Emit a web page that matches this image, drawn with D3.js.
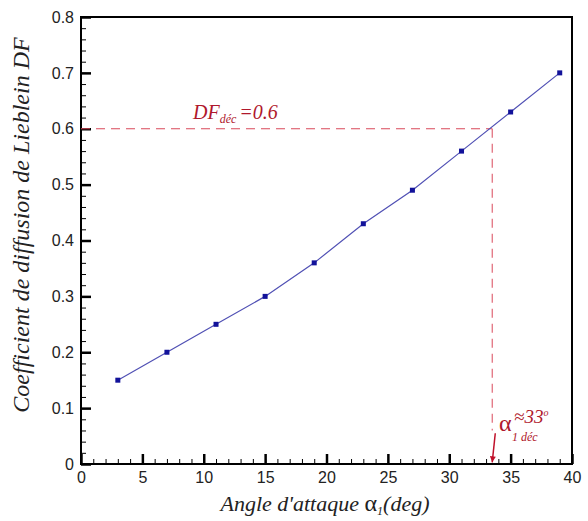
<!DOCTYPE html>
<html><head><meta charset="utf-8">
<script src="https://cdn.jsdelivr.net/npm/d3@7"></script>
<style>body{margin:0;background:#fff}svg{display:block}</style>
</head><body>
<svg id="c" width="588" height="521"></svg>
<script>
const alpha = [3, 7, 11, 15, 19, 23, 27, 31, 35, 39];
const dfValues = [0.15, 0.20, 0.25, 0.30, 0.36, 0.43, 0.49, 0.56, 0.63, 0.70];
const xTicks = [0, 5, 10, 15, 20, 25, 30, 35, 40];
const yTicks = [0, 0.1, 0.2, 0.3, 0.4, 0.5, 0.6, 0.7, 0.8];
const dfLimit = 0.6;
const alphaLimit = 33.5;

const SERIF = "Liberation Serif";
const SANS = "Liberation Sans";

const svg = d3.select("#c");
const L = 81, R = 572, T = 17, B = 464;
const x = d3.scaleLinear().domain([0, 40]).range([L, R]);
const y = d3.scaleLinear().domain([0, 0.8]).range([B, T]);

// frame
svg.append("rect").attr("x", L).attr("y", T).attr("width", R - L).attr("height", B - T)
  .attr("fill", "none").attr("stroke", "#000").attr("stroke-width", 2);

// x axis
const xAxis = svg.append("g").attr("transform", `translate(0,${B})`);
xAxis.call(d3.axisBottom(x).tickValues(d3.range(0, 41, 1)).tickSize(-5).tickFormat(""))
  .call(g => g.select(".domain").remove())
  .call(g => g.selectAll("line").attr("stroke", "#000").attr("stroke-width", 1));
xAxis.append("g").call(d3.axisBottom(x).tickValues(xTicks).tickSize(-10).tickPadding(8).tickFormat(d3.format("d")))
  .call(g => g.select(".domain").remove())
  .call(g => g.selectAll("line").attr("stroke", "#000").attr("stroke-width", 2.5))
  .call(g => g.selectAll("text").attr("font-family", SANS).attr("font-size", 16).attr("fill", "#222"));

// y axis
const yAxis = svg.append("g").attr("transform", `translate(${L},0)`);
yAxis.call(d3.axisLeft(y).tickValues(d3.range(0, 0.8001, 0.02)).tickSize(-5).tickFormat(""))
  .call(g => g.select(".domain").remove())
  .call(g => g.selectAll("line").attr("stroke", "#000").attr("stroke-width", 1));
yAxis.append("g").call(d3.axisLeft(y).tickValues(yTicks).tickSize(-10).tickPadding(7).tickFormat(d => d === 0 ? "0" : d3.format(".1f")(d)))
  .call(g => g.select(".domain").remove())
  .call(g => g.selectAll("line").attr("stroke", "#000").attr("stroke-width", 2.5))
  .call(g => g.selectAll("text").attr("font-family", SANS).attr("font-size", 16).attr("fill", "#222"));

// dashed guide lines
const red = "#d9485a";
svg.append("line").attr("x1", x(0)).attr("x2", x(alphaLimit)).attr("y1", y(dfLimit)).attr("y2", y(dfLimit))
  .attr("stroke", red).attr("stroke-width", 1).attr("stroke-dasharray", "9,6");
svg.append("line").attr("x1", x(alphaLimit)).attr("x2", x(alphaLimit)).attr("y1", y(dfLimit)).attr("y2", y(0.06))
  .attr("stroke", red).attr("stroke-width", 1).attr("stroke-dasharray", "9,6");

// arrow
const defs = svg.append("defs");
defs.append("marker").attr("id", "ah").attr("viewBox", "0 0 10 10").attr("refX", 10).attr("refY", 5)
  .attr("markerWidth", 5).attr("markerHeight", 4).attr("orient", "auto")
  .append("path").attr("d", "M0,0 L10,5 L0,10 z").attr("fill", "#c0102a");
svg.append("line").attr("x1", x(33.75)).attr("y1", y(0.055)).attr("x2", x(alphaLimit)).attr("y2", y(0.003))
  .attr("stroke", "#c0102a").attr("stroke-width", 1.5).attr("marker-end", "url(#ah)");

// data line
const line = d3.line().x((d, i) => x(alpha[i])).y(d => y(d));
svg.append("path").datum(dfValues).attr("d", line).attr("fill", "none")
  .attr("stroke", "#5050b4").attr("stroke-width", 1.2);
svg.selectAll("rect.pt").data(dfValues).enter().append("rect").attr("class", "pt")
  .attr("x", (d, i) => x(alpha[i]) - 2.5).attr("y", d => y(d) - 2.5)
  .attr("width", 5).attr("height", 5).attr("fill", "#12129a");

// annotations
const txtRed = "#b0182c";
const a1 = svg.append("text").attr("font-family", SERIF).attr("x", 193).attr("y", 119).attr("fill", txtRed)
  .attr("font-style", "italic").attr("font-size", 20);
a1.append("tspan").text("DF");
a1.append("tspan").attr("font-size", 12).attr("dy", 4).text("déc");
a1.append("tspan").attr("dy", -4).attr("dx", 3).text("=0.6");

svg.append("text").attr("font-family", SERIF).attr("x", 499).attr("y", 431).attr("fill", txtRed)
  .attr("font-size", 24).text("α");
svg.append("text").attr("font-family", SERIF).attr("x", 512).attr("y", 441).attr("fill", txtRed)
  .attr("font-size", 12).attr("font-style", "italic").text("1 déc");
const a3 = svg.append("text").attr("font-family", SERIF).attr("x", 514).attr("y", 423).attr("fill", txtRed)
  .attr("font-size", 19).attr("font-style", "italic");
a3.append("tspan").text("≈33");
a3.append("tspan").attr("font-size", 10).attr("dy", -7).text("o");

// axis titles
const xt = svg.append("text").attr("font-family", SERIF).attr("x", 325).attr("y", 511).attr("text-anchor", "middle")
  .attr("font-size", 22).attr("fill", "#222");
xt.append("tspan").attr("font-style", "italic").text("Angle d'attaque  ");
xt.append("tspan").attr("font-size", 24).text("α");
xt.append("tspan").attr("font-style", "italic").attr("font-size", 12).attr("dy", 4).text("1");
xt.append("tspan").attr("font-style", "italic").attr("dy", -4).text("(deg)");

svg.append("text").attr("font-family", SERIF).attr("transform", "translate(29,225) rotate(-90)").attr("text-anchor", "middle")
  .attr("font-style", "italic")
  .attr("font-size", 24).attr("fill", "#222").text("Coefficient de diffusion de Lieblein  DF");
</script>
</body></html>
